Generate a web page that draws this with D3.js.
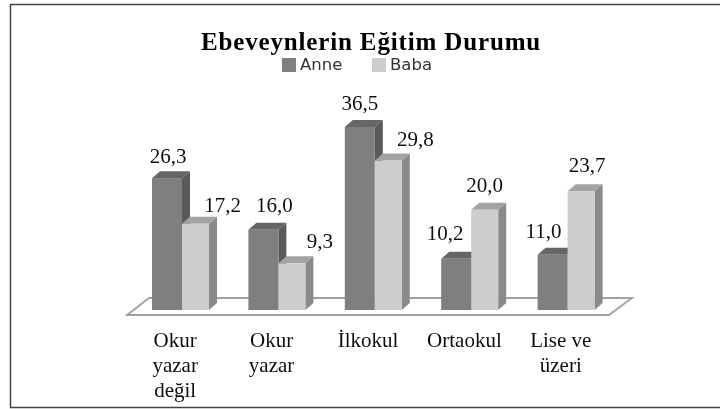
<!DOCTYPE html>
<html>
<head>
<meta charset="utf-8">
<script src="https://cdn.jsdelivr.net/npm/d3@7"></script>
<style>
html, body { margin: 0; padding: 0; background: #fff; }
svg { display: block; }
</style>
</head>
<body>
<svg id="chart" width="720" height="409"></svg>
<script>
const categories = [["Okur", "yazar", "değil"], ["Okur", "yazar"], ["İlkokul"], ["Ortaokul"], ["Lise ve", "üzeri"]];
const seriesNames = ["Anne", "Baba"];
const anne = [26.3, 16.0, 36.5, 10.2, 11.0];
const baba = [17.2, 9.3, 29.8, 20.0, 23.7];
const valueLabels = [["26,3", "16,0", "36,5", "10,2", "11,0"], ["17,2", "9,3", "29,8", "20,0", "23,7"]];

const front = ["#7f7f7f", "#cdcdcd"];
const topFace = ["#666666", "#a3a3a3"];
const sideFace = ["#5a5a5a", "#8a8a8a"];
const barWidth = [30, 27];
const depthX = 8, depthY = 7;

// hand placed label nudges, the labels dodge the 3d bars
const labelDx = [[1, 11, 0, -11, -9], [27, 28, 27, 0, 6]];
const labelDy = [[15, 18, 17, 19, 17], [12, 15, 15, 18, 19]];

const svg = d3.select("#chart");
const defs = svg.append("defs");
defs.append("filter").attr("id", "soft")
	.append("feGaussianBlur").attr("stdDeviation", 0.5);

const keys = categories.map((d, i) => i);
const xScale = d3.scaleBand().domain(keys).range([127, 609]);
const inner = d3.scalePoint().domain([0, 1]).range([25, 55]);
const yScale = d3.scaleLinear().domain([0, 36.5]).range([310, 127]);

// outer frame, open on the right
svg.append("path")
	.attr("d", "M720,4.5H10.5V407.5H720")
	.attr("fill", "none")
	.attr("stroke", "#444")
	.attr("stroke-width", 1.5);

const soft = svg.append("g").attr("filter", "url(#soft)");

// floor of the 3d plot
soft.append("polygon")
	.attr("points", "127,315 609,315 632,298 149,298")
	.attr("fill", "#fff")
	.attr("stroke", "#a0a0a0")
	.attr("stroke-width", 1.8);

[anne, baba].forEach((values, s) => {
	const g = soft.append("g");
	values.forEach((v, i) => {
		const x0 = xScale(i) + inner(s);
		const x1 = x0 + barWidth[s];
		const y0 = yScale(v);
		const y1 = yScale(0);
		g.append("polygon")
			.attr("points", [[x1, y0], [x1 + depthX, y0 - depthY], [x1 + depthX, y1 - depthY], [x1, y1]].join(" "))
			.attr("fill", sideFace[s]);
		g.append("polygon")
			.attr("points", [[x0, y0], [x0 + depthX, y0 - depthY], [x1 + depthX, y0 - depthY], [x1, y0]].join(" "))
			.attr("fill", topFace[s]);
		g.append("rect")
			.attr("x", x0)
			.attr("y", y0)
			.attr("width", barWidth[s])
			.attr("height", y1 - y0)
			.attr("fill", front[s]);
	});
});

const serif = "'Liberation Serif', serif";
[anne, baba].forEach((values, s) => {
	values.forEach((v, i) => {
		soft.append("text")
			.attr("x", xScale(i) + inner(s) + barWidth[s] / 2 + labelDx[s][i])
			.attr("y", yScale(v) - labelDy[s][i])
			.attr("text-anchor", "middle")
			.attr("font-family", serif)
			.attr("font-size", 21)
			.attr("fill", "#111")
			.text(valueLabels[s][i]);
	});
});

categories.forEach((lines, i) => {
	lines.forEach((line, j) => {
		soft.append("text")
			.attr("x", xScale(i) + xScale.bandwidth() / 2)
			.attr("y", 347 + j * 25)
			.attr("text-anchor", "middle")
			.attr("font-family", serif)
			.attr("font-size", 21)
			.attr("fill", "#111")
			.text(line);
	});
});

soft.append("text")
	.attr("x", 371)
	.attr("y", 50)
	.attr("text-anchor", "middle")
	.attr("font-family", serif)
	.attr("font-weight", "bold")
	.attr("font-size", 25)
	.attr("letter-spacing", 0.85)
	.attr("fill", "#000")
	.text("Ebeveynlerin Eğitim Durumu");

const legendX = d3.scaleOrdinal().domain(seriesNames).range([282, 372]);
seriesNames.forEach((name, s) => {
	soft.append("rect")
		.attr("x", legendX(name))
		.attr("y", 58)
		.attr("width", 14)
		.attr("height", 14)
		.attr("fill", front[s]);
	soft.append("text")
		.attr("x", legendX(name) + 18)
		.attr("y", 70)
		.attr("font-family", "'DejaVu Sans', sans-serif")
		.attr("font-size", 16.5)
		.attr("fill", "#333")
		.text(name);
});
</script>
</body>
</html>
